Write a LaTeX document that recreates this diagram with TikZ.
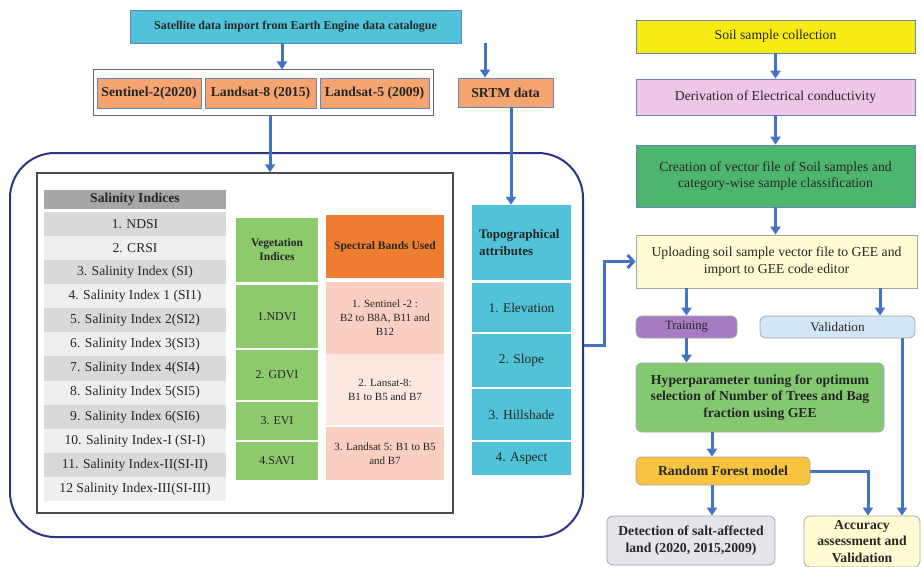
\documentclass[tikz,border=0pt]{standalone}
\usepackage{fontspec}
\setmainfont{Liberation Serif}
\usetikzlibrary{arrows.meta}
\definecolor{arrBlue}{HTML}{4472C4}
\definecolor{boxEdge}{HTML}{6A84B8}
\definecolor{frmNavy}{HTML}{2B3580}
\definecolor{cyanFl}{HTML}{50C3D8}
\definecolor{peachFl}{HTML}{F5A470}
\definecolor{salHdFl}{HTML}{A6A6A6}
\definecolor{salDkFl}{HTML}{D9D9D9}
\definecolor{salLtFl}{HTML}{EFEFEF}
\definecolor{vegFl}{HTML}{8DCA6E}
\definecolor{spcHdFl}{HTML}{EE7D31}
\definecolor{spcDkFl}{HTML}{F8CFC0}
\definecolor{spcLtFl}{HTML}{FCE8E0}
\definecolor{soilFl}{HTML}{F7EB14}
\definecolor{ecFl}{HTML}{EEC6E8}
\definecolor{vecFl}{HTML}{4DB66E}
\definecolor{creamFl}{HTML}{FFFBD2}
\definecolor{trainFl}{HTML}{A57BC2}
\definecolor{validFl}{HTML}{D1E6F7}
\definecolor{hypFl}{HTML}{84C872}
\definecolor{rfFl}{HTML}{F8C33F}
\definecolor{detFl}{HTML}{E4E5EA}
\begin{document}
\begin{tikzpicture}[x=1pt,y=-1pt,
    bxSz/.style 2 args={minimum width=#1pt,minimum height=#2pt},
    flowBx/.style={rectangle,draw=boxEdge,line width=0.8pt,align=center,inner sep=1pt,text=black!85,font=\fontsize{13.7}{16.5}\selectfont},
    flowBxB/.style={flowBx,font=\fontsize{13.7}{16.5}\selectfont\bfseries},
    rndBx/.style={flowBx,rounded corners=6pt,draw=gray!70},
    rndBxB/.style={flowBxB,rounded corners=6pt,draw=gray!70},
    cellBx/.style={rectangle,draw=none,align=center,inner sep=1pt,text=black!85,font=\fontsize{13.6}{16}\selectfont},
    cellBxB/.style={cellBx,font=\fontsize{13.6}{16}\selectfont\bfseries},
    hdSm/.style={font=\fontsize{11.5}{14}\selectfont\bfseries},
    flowArr/.style={-{Triangle[length=8pt,width=10pt]},draw=arrBlue,line width=3pt},
]
\useasboundingbox (0,0) rectangle (923,567);
% satellite side
\node[flowBxB,fill=cyanFl,bxSz={331}{33},font=\fontsize{12}{14}\selectfont\bfseries] (satImp) at (295.5,26.5) {Satellite data import from Earth Engine data catalogue};
\node[rectangle,draw=black!60,line width=1pt,fill=white,bxSz={340}{46}] (yrRow) at (263,93) {};
\node[flowBxB,fill=peachFl,bxSz={104}{30}] (sent2) at (149,93) {Sentinel-2(2020)};
\node[flowBxB,fill=peachFl,bxSz={111}{30}] (land8) at (260.5,93) {Landsat-8 (2015)};
\node[flowBxB,fill=peachFl,bxSz={109}{30}] (land5) at (374.5,93) {Landsat-5 (2009)};
\node[flowBxB,fill=peachFl,bxSz={95}{29}] (srtm) at (505.5,92.5) {SRTM data};
\node[rectangle,draw=frmNavy,line width=2pt,rounded corners=45pt,bxSz={573}{384}] (featFrm) at (296.5,345) {};
\node[rectangle,draw=black!70,line width=1.5pt,fill=white,bxSz={416}{340}] (idxTbl) at (245,343) {};
% salinity indices
\node[cellBxB,fill=salHdFl,bxSz={182}{19}] (salHd) at (135,199.5) {Salinity Indices};
\node[cellBx,fill=salDkFl,bxSz={182}{24.3}] (sal1) at (135,224.0) {1. NDSI};
\node[cellBx,fill=salLtFl,bxSz={182}{24.3}] (sal2) at (135,248.1) {2. CRSI};
\node[cellBx,fill=salDkFl,bxSz={182}{24.3}] (sal3) at (135,272.2) {3. Salinity Index (SI)};
\node[cellBx,fill=salLtFl,bxSz={182}{24.3}] (sal4) at (135,296.3) {4. Salinity Index 1 (SI1)};
\node[cellBx,fill=salDkFl,bxSz={182}{24.3}] (sal5) at (135,320.4) {5. Salinity Index 2(SI2)};
\node[cellBx,fill=salLtFl,bxSz={182}{24.3}] (sal6) at (135,344.5) {6. Salinity Index 3(SI3)};
\node[cellBx,fill=salDkFl,bxSz={182}{24.3}] (sal7) at (135,368.6) {7. Salinity Index 4(SI4)};
\node[cellBx,fill=salLtFl,bxSz={182}{24.3}] (sal8) at (135,392.7) {8. Salinity Index 5(SI5)};
\node[cellBx,fill=salDkFl,bxSz={182}{24.3}] (sal9) at (135,416.8) {9. Salinity Index 6(SI6)};
\node[cellBx,fill=salLtFl,bxSz={182}{24.3}] (sal10) at (135,440.9) {10. Salinity Index-I (SI-I)};
\node[cellBx,fill=salDkFl,bxSz={182}{24.3}] (sal11) at (135,465.0) {11. Salinity Index-II(SI-II)};
\node[cellBx,fill=salLtFl,bxSz={182}{24.3}] (sal12) at (135,489.1) {12 Salinity Index-III(SI-III)};
% vegetation indices
\node[cellBxB,hdSm,fill=vegFl,bxSz={82}{64}] (vegHd) at (277,250) {Vegetation\\Indices};
\node[cellBx,fill=vegFl,bxSz={82}{63},font=\fontsize{12}{14}\selectfont] (ndvi) at (277,316.5) {1.NDVI};
\node[cellBx,fill=vegFl,bxSz={82}{50},font=\fontsize{12}{14}\selectfont] (gdvi) at (277,375) {2. GDVI};
\node[cellBx,fill=vegFl,bxSz={82}{38},font=\fontsize{12}{14}\selectfont] (evi) at (277,421) {3. EVI};
\node[cellBx,fill=vegFl,bxSz={82}{38},font=\fontsize{12}{14}\selectfont] (savi) at (277,461) {4.SAVI};
% spectral bands
\node[cellBxB,hdSm,fill=spcHdFl,bxSz={118}{63}] (spcHd) at (385,246.5) {Spectral Bands Used};
\node[cellBx,fill=spcDkFl,bxSz={118}{72},font=\fontsize{11}{14}\selectfont] (spcS2) at (385,318) {1. Sentinel -2 :\\B2 to B8A, B11 and\\B12};
\node[cellBx,fill=spcLtFl,bxSz={118}{71},font=\fontsize{11}{14}\selectfont] (spcL8) at (385,389.5) {2. Lansat-8:\\B1 to B5 and B7};
\node[cellBx,fill=spcDkFl,bxSz={118}{53},font=\fontsize{11}{14}\selectfont] (spcL5) at (385,453.5) {3. Landsat 5: B1 to B5\\and B7};
% topographical attributes
\node[cellBxB,fill=cyanFl,bxSz={99}{75},text width=85pt,align=left,font=\fontsize{13}{17}\selectfont\bfseries] (topoHd) at (521.5,242.5) {Topographical\\attributes};
\node[cellBx,fill=cyanFl,bxSz={99}{49},font=\fontsize{13.4}{16}\selectfont] (elev) at (521.5,307.5) {1. Elevation};
\node[cellBx,fill=cyanFl,bxSz={99}{53},font=\fontsize{13.4}{16}\selectfont] (slope) at (521.5,360.5) {2. Slope};
\node[cellBx,fill=cyanFl,bxSz={99}{51},font=\fontsize{13.4}{16}\selectfont] (hill) at (521.5,414.5) {3. Hillshade};
\node[cellBx,fill=cyanFl,bxSz={99}{33},font=\fontsize{13.4}{16}\selectfont] (aspect) at (521.5,458.5) {4. Aspect};
% soil sample side
\node[flowBx,fill=soilFl,bxSz={279}{33}] (soilCol) at (775.5,36.5) {Soil sample collection};
\node[flowBx,fill=ecFl,bxSz={279}{36}] (ecDer) at (775.5,97) {Derivation of Electrical conductivity};
\node[flowBx,fill=vecFl,bxSz={279}{62}] (vecFile) at (775.5,176) {Creation of vector file of Soil samples and\\category-wise sample classification};
\node[flowBx,fill=creamFl,draw=gray!70,bxSz={281}{53}] (upGee) at (776.5,261.5) {Uploading soil sample vector file to GEE and\\import to GEE code editor};
\node[rndBx,fill=trainFl,bxSz={101}{22},font=\fontsize{12.6}{15}\selectfont] (train) at (686.5,327) {Training};
\node[rndBx,fill=validFl,bxSz={155}{22},font=\fontsize{13.2}{15}\selectfont] (valid) at (837.5,327) {Validation};
\node[rndBxB,fill=hypFl,bxSz={248}{69}] (hypTune) at (760,397.5) {Hyperparameter tuning for optimum\\selection of Number of Trees and Bag\\fraction using GEE};
\node[rndBxB,fill=rfFl,bxSz={174}{28}] (rfMod) at (723,471) {Random Forest model};
\node[rndBxB,fill=detFl,bxSz={168}{49}] (detSalt) at (691,540.5) {Detection of salt-affected\\land (2020, 2015,2009)};
\node[rndBxB,fill=creamFl,bxSz={116}{51}] (accVal) at (862,541.5) {Accuracy\\assessment and\\Validation};
\draw[flowArr] ([xshift=-13.5pt]satImp.south) -- ([xshift=-13.5pt]satImp.south |- yrRow.north);
\draw[flowArr] ([xshift=-20.5pt]srtm.north |- satImp.south) -- ([xshift=-20.5pt]srtm.north);
\draw[flowArr] ([xshift=7pt]yrRow.south) -- ([xshift=7pt]yrRow.south |- idxTbl.north);
\draw[flowArr] ([xshift=5.5pt]srtm.south) -- ([xshift=5.5pt]srtm.south |- topoHd.north);
\draw[flowArr,-{Straight Barb[length=6pt,width=13pt]}] (featFrm.east) -- ++(20,0) |- (upGee.west);
\draw[flowArr] (soilCol) -- (ecDer);
\draw[flowArr] (ecDer) -- (vecFile);
\draw[flowArr] (vecFile.south) -- (vecFile.south |- upGee.north);
\draw[flowArr] (upGee.south -| train.north) -- (train.north);
\draw[flowArr] ([xshift=42.5pt]valid.north |- upGee.south) -- ([xshift=42.5pt]valid.north);
\draw[flowArr] (train.south) -- (train.south |- hypTune.north);
\draw[flowArr] ([xshift=-11pt]rfMod.north |- hypTune.south) -- ([xshift=-11pt]rfMod.north);
\draw[flowArr] ([xshift=-11pt]rfMod.south) -- ([xshift=-11pt]rfMod.south |- detSalt.north);
\draw[flowArr] (rfMod.east) -| ([xshift=6pt]accVal.north);
\draw[flowArr] ([xshift=40pt]accVal.north |- valid.south) -- ([xshift=40pt]accVal.north);
\end{tikzpicture}
\end{document}
